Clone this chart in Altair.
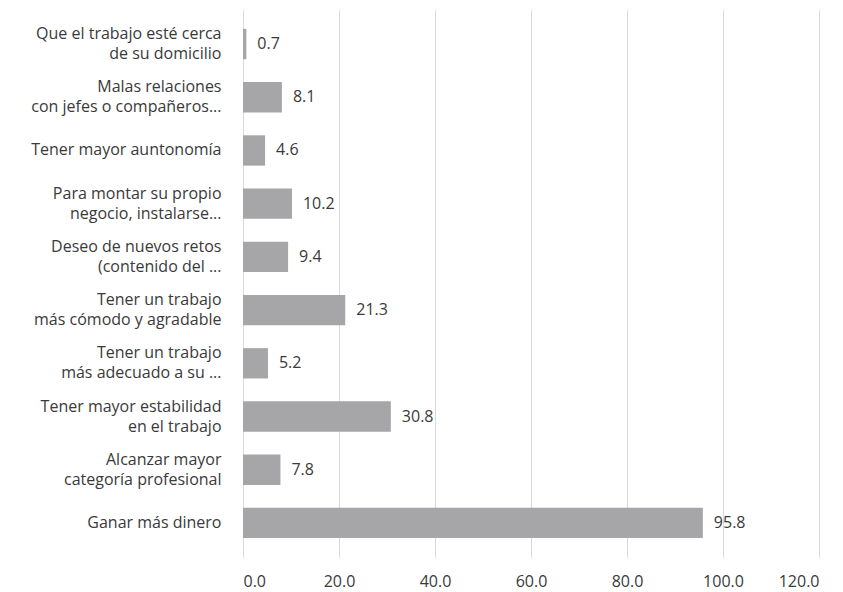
import altair as alt
import pandas as pd

categories = [
    "Que el trabajo esté cerca|de su domicilio",
    "Malas relaciones|con jefes o compañeros...",
    "Tener mayor auntonomía",
    "Para montar su propio|negocio, instalarse...",
    "Deseo de nuevos retos|(contenido del ...",
    "Tener un trabajo|más cómodo y agradable",
    "Tener un trabajo|más adecuado a su ...",
    "Tener mayor estabilidad|en el trabajo",
    "Alcanzar mayor|categoría profesional",
    "Ganar más dinero",
]
values = [0.7, 8.1, 4.6, 10.2, 9.4, 21.3, 5.2, 30.8, 7.8, 95.8]
x_ticks = [0, 20, 40, 60, 80, 100, 120]

df = pd.DataFrame({"cat": categories, "val": values})
FONT = "Open Sans"
FS = 16
TXT = "#3a3a3a"

y_enc = alt.Y(
    "cat:N",
    sort=categories,
    title=None,
    scale=alt.Scale(paddingInner=0.43, paddingOuter=0.355),
    axis=alt.Axis(
        labelExpr="split(datum.label, '|')",
        labelLineHeight=20,
        labelFontSize=FS,
        labelFont=FONT,
        labelColor=TXT,
        labelPadding=22,
        labelOffset={
            "condition": {"test": "indexof(datum.value, '|') >= 0", "value": -10},
            "value": 0,
        },
        ticks=False,
        domain=False,
        grid=False,
        minExtent=235,
        maxExtent=235,
        labelLimit=300,
    ),
)
x_enc = alt.X(
    "val:Q",
    title=None,
    scale=alt.Scale(domain=[0, 120], nice=False),
    axis=alt.Axis(
        values=x_ticks,
        format=".1f",
        labelFontSize=FS,
        labelFont=FONT,
        labelColor=TXT,
        labelPadding=16,
        ticks=False,
        domain=False,
        grid=True,
        gridColor="#d9d9d9",
        gridWidth=1,
    ),
)

bars = alt.Chart(df).mark_bar(color="#a6a6a8").encode(x=x_enc, y=y_enc)
labels = alt.Chart(df).mark_text(
    align="left", baseline="middle", dx=11, fontSize=FS, font=FONT, color=TXT
).encode(x=x_enc, y=y_enc, text=alt.Text("val:Q", format=".1f"))

chart = (
    (bars + labels)
    .properties(
        width=576,
        height=547,
        background="white",
        padding={"left": 0, "top": 2, "right": 10, "bottom": 2},
    )
    .configure_view(strokeWidth=0, stroke="transparent")
    .configure_axis(domain=False)
    .configure_axisY(grid=False)
)
chart.save("out.html", embed_options={"renderer": "svg", "actions": False})
